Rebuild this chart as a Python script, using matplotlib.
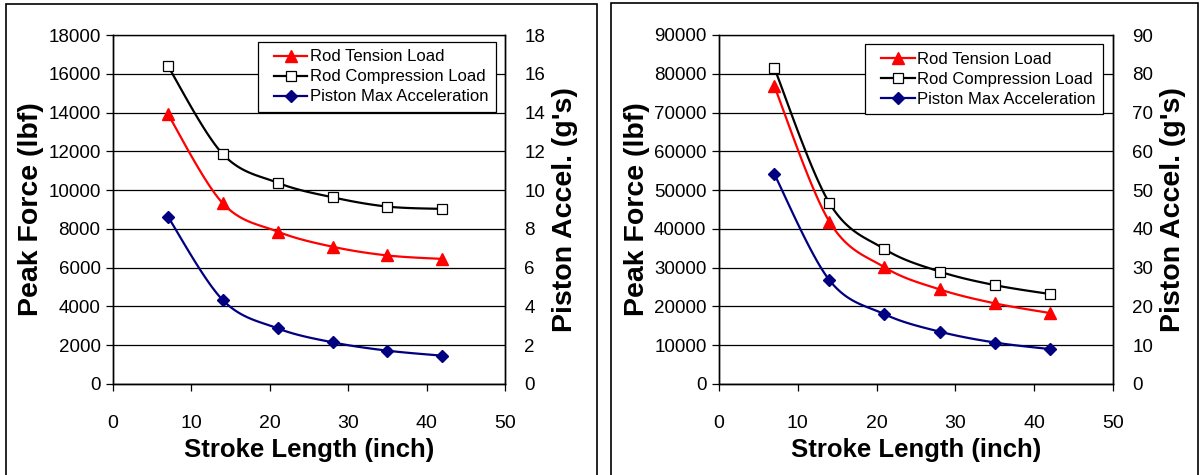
import numpy as np
import matplotlib
matplotlib.use("Agg")
import matplotlib.pyplot as plt
from matplotlib import font_manager
from matplotlib.patches import Rectangle
from matplotlib.legend_handler import HandlerLine2D

# data
stroke = [7, 14, 21, 28, 35, 42]

tension_a = [13920, 9320, 7860, 7080, 6630, 6450]
compression_a = [16400, 11860, 10380, 9630, 9150, 9030]
accel_a = [8.63, 4.33, 2.87, 2.15, 1.72, 1.46]

tension_b = [76900, 41900, 30100, 24400, 20800, 18300]
compression_b = [81600, 46700, 34800, 29000, 25500, 23200]
accel_b = [54.2, 26.8, 18.0, 13.5, 10.7, 9.0]

force_ticks_a = np.arange(0, 18001, 2000)
accel_ticks_a = np.arange(0, 19, 2)
force_ticks_b = np.arange(0, 90001, 10000)
accel_ticks_b = np.arange(0, 91, 10)
x_ticks = np.arange(0, 51, 10)

names = ["Rod Tension Load", "Rod Compression Load", "Piston Max Acceleration"]

# fonts
installed = {f.name for f in font_manager.fontManager.ttflist}
BASE = "Liberation Sans" if "Liberation Sans" in installed else "DejaVu Sans"
plt.rcParams["font.family"] = BASE

W, H = 1200, 475
LW = 1.6


def smooth(x, y, n=24):
    """catmull-rom curve through the points (like excel smoothed lines)"""
    pts = np.column_stack([x, y]).astype(float)
    p = np.vstack([pts[0], pts, pts[-1]])
    out = []
    t = np.linspace(0, 1, n)[:, None]
    for i in range(1, len(p) - 2):
        p0, p1, p2, p3 = p[i - 1], p[i], p[i + 1], p[i + 2]
        seg = 0.5 * (2 * p1 + (-p0 + p2) * t
                     + (2 * p0 - 5 * p1 + 4 * p2 - p3) * t ** 2
                     + (-p0 + 3 * p1 - 3 * p2 + p3) * t ** 3)
        out.append(seg)
    c = np.vstack(out)
    return c[:, 0], c[:, 1]


def panel(fig, rect, tension, compression, accel, fticks, aticks, legend_anchor):
    ax = fig.add_axes(rect)
    ax2 = ax.twinx()

    ax.set_xlim(0, 50)
    ax.set_ylim(fticks[0], fticks[-1])
    ax2.set_ylim(aticks[0], aticks[-1])
    ax.set_xticks(x_ticks)
    ax.set_yticks(fticks)
    ax2.set_yticks(aticks)
    ax.set_yticklabels([str(v) for v in fticks])
    ax2.set_yticklabels([str(v) for v in aticks])

    ax.yaxis.grid(True, color="black", linewidth=0.9)
    ax.set_axisbelow(True)
    for sp in list(ax.spines.values()) + list(ax2.spines.values()):
        sp.set_linewidth(1.0)
        sp.set_color("black")
    ax2.spines["top"].set_visible(False)

    ax.tick_params(axis="x", direction="out", length=5, width=0.9, pad=17,
                   labelsize=14)
    ax.tick_params(axis="y", direction="out", length=5, width=0.9, pad=4,
                   labelsize=13.5)
    ax2.tick_params(axis="y", length=0, pad=14, labelsize=13.5)

    sx, sy = smooth(stroke, tension)
    ax.plot(sx, sy, color="#ff0000", lw=LW, zorder=3)
    ax.plot(stroke, tension, ls="none", marker="^", ms=9, color="#ff0000", zorder=4)

    sx, sy = smooth(stroke, compression)
    ax.plot(sx, sy, color="black", lw=LW, zorder=3)
    ax.plot(stroke, compression, ls="none", marker="s", ms=7.5, mfc="white",
            mec="black", mew=0.9, zorder=4)

    sx, sy = smooth(stroke, accel)
    ax2.plot(sx, sy, color="#000080", lw=LW, zorder=3)
    ax2.plot(stroke, accel, ls="none", marker="D", ms=6, color="#000080", zorder=4)

    handles = [
        plt.Line2D([], [], color="#ff0000", lw=LW, marker="^", ms=9),
        plt.Line2D([], [], color="black", lw=LW, marker="s", ms=7, mfc="white", mew=0.9),
        plt.Line2D([], [], color="#000080", lw=LW, marker="D", ms=6),
    ]
    leg = ax2.legend(handles, names, loc="upper right", bbox_to_anchor=legend_anchor,
                     fontsize=12, frameon=True, fancybox=False, framealpha=1,
                     edgecolor="black", handlelength=2.5, handletextpad=0.15,
                     labelspacing=0.3, borderpad=0.45, borderaxespad=0,
                     handler_map={h: HandlerLine2D(xpad=0.5) for h in handles})
    leg.get_frame().set_linewidth(0.9)

    ax.set_xlabel("Stroke Length (inch)", fontsize=18.5, fontweight="bold", labelpad=5)
    ax.set_ylabel("Peak Force (lbf)", fontsize=20.5, fontweight="bold", labelpad=3)
    ax2.set_ylabel("Piston Accel. (g's)", fontsize=20.5, fontweight="bold", labelpad=5)
    return ax, ax2


fig = plt.figure(figsize=(W / 100, H / 100), dpi=100)

# outer chart borders
fig.patches.append(Rectangle((6 / W, -0.1), 591 / W, 1.1 - 4 / H, transform=fig.transFigure,
                             fill=False, edgecolor="black", lw=1.2))
fig.patches.append(Rectangle((611 / W, -0.1), 587 / W, 1.1 - 3 / H, transform=fig.transFigure,
                             fill=False, edgecolor="black", lw=1.2))

panel(fig, [113 / W, 1 - 384 / H, 392 / W, 349 / H],
      tension_a, compression_a, accel_a, force_ticks_a, accel_ticks_a, (0.977, 0.98))
panel(fig, [719 / W, 1 - 384 / H, 394 / W, 349 / H],
      tension_b, compression_b, accel_b, force_ticks_b, accel_ticks_b, (0.975, 0.974))

fig.savefig("out.png", dpi=100)
